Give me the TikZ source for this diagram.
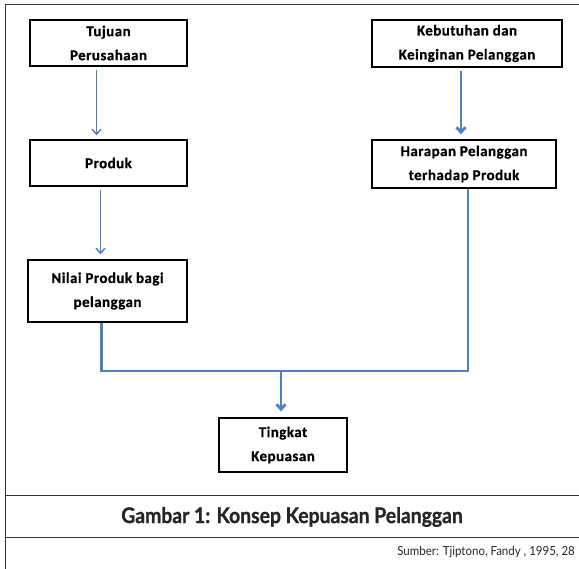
\documentclass[tikz,border=0pt]{standalone}
\usepackage{fontspec}
\setmainfont{Carlito}
\newfontfamily\capfont{Lato}
\usetikzlibrary{arrows.meta}
\usetikzlibrary{positioning}
\definecolor{mblue}{RGB}{79,129,189}
\tikzset{box/.style = {draw, line width=1.3pt, align=center, inner sep=0,
                       font=\bfseries\fontsize{15}{24}\selectfont\addfontfeatures{LetterSpace=3,FakeBold=0.6}}}
\tikzset{link/.style = {draw=mblue, line width=1.5pt}}
\tikzset{thicklink/.style = {draw=mblue, line width=2.8pt}}
\tikzset{tip/.style = {-{Straight Barb[length=5pt,width=9pt]}}}

\begin{document}
\begin{tikzpicture}[x=1pt, y=-1pt]
    \useasboundingbox (0, 0) rectangle (579, 569);
    % frame
    \draw [line width=0.8pt, black!80] (5, 569) -- (5, 4) -- (579, 4);
    \draw [line width=0.8pt, black!80] (5, 495) -- (579, 495);
    \draw [line width=0.8pt, black!80] (5, 537) -- (579, 537);

    % left column
    \node [box, minimum width=157, minimum height=46] (tujuan) at (108.5, 43) {Tujuan\\Perusahaan};
    \node [box, minimum width=157, minimum height=46] (produk) at (108.5, 163) {Produk};
    \node [box, minimum width=159, minimum height=62] (nilai) at (107.5, 291) {Nilai Produk bagi\\pelanggan};

    % right column
    \node [box, minimum width=190, minimum height=47] (kebutuhan) at (467, 43.5) {Kebutuhan dan\\Keinginan Pelanggan};
    \node [box, minimum width=184, minimum height=48] (harapan) at (464, 164) {Harapan Pelanggan\\terhadap Produk};

    % result
    \node [box, minimum width=128, minimum height=54] (tingkat) at (283, 445) {Tingkat\\Kepuasan};

    % connectors
    \draw [link, tip, shorten <=3pt, shorten >=4pt] ([xshift=-12pt]tujuan.south) -- ([xshift=-12pt]produk.north);
    \draw [link, tip, shorten <=3pt, shorten >=5pt] ([xshift=-8pt]produk.south) -- ([xshift=-8pt]produk.south |- nilai.north);
    \draw [thicklink, tip, shorten <=3pt, shorten >=5pt] ([xshift=-6pt]kebutuhan.south) -- ([xshift=-6pt]kebutuhan.south |- harapan.north);
    \coordinate (join) at (281, 371);
    \draw [thicklink] ([xshift=-6pt]nilai.south) |- (join) -| ([xshift=4pt]harapan.south);
    \draw [thicklink, tip, shorten >=6pt] (join) -- (join |- tingkat.north);

    % caption
    \node [font=\capfont\bfseries\fontsize{21.5}{23}\selectfont\addfontfeatures{FakeStretch=0.9,FakeBold=1}, text=black!85] (caption) at (292, 517) {Gambar 1: Konsep Kepuasan Pelanggan};
    \node [font=\capfont\fontsize{12.5}{14}\selectfont\addfontfeatures{FakeStretch=0.92}, text=black!85, anchor=east, inner sep=0] (sumber) at (575, 552) {Sumber: Tjiptono, Fandy , 1995, 28};
\end{tikzpicture}
\end{document}
